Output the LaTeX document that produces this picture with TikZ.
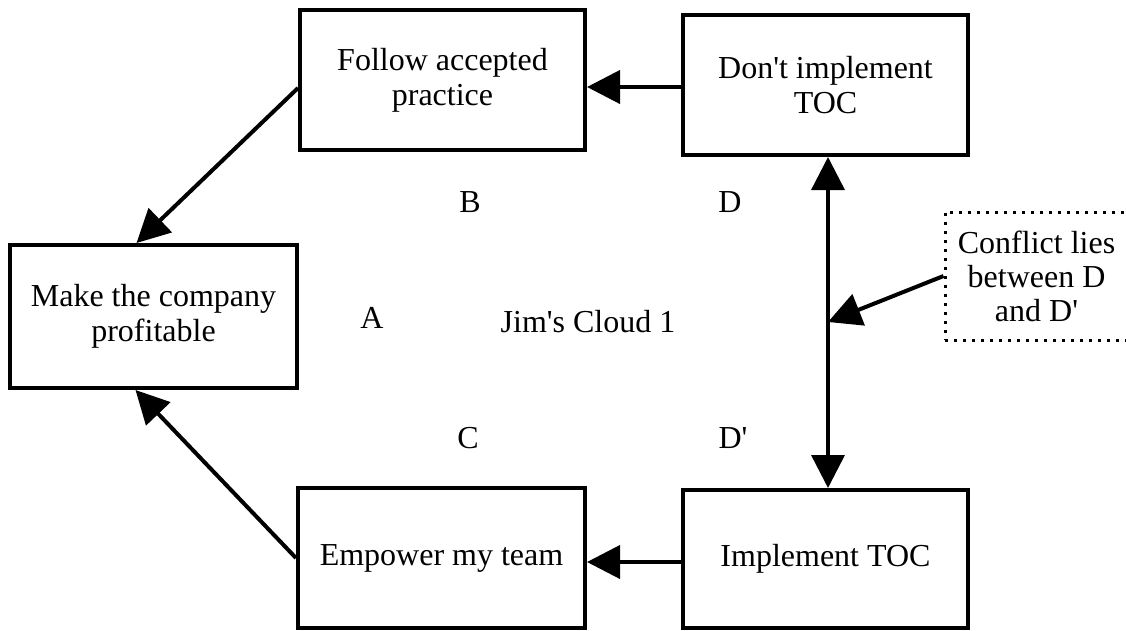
\documentclass[tikz,border=0pt]{standalone}
\usepackage{fontspec}
\setmainfont{Liberation Serif}
\usetikzlibrary{arrows.meta}

\newcommand{\ap}{\textquotesingle}

\tikzset{
  box/.style={draw, line width=4pt, rectangle, align=center, inner sep=0pt,
              font=\fontsize{32}{35}\selectfont},
  lbl/.style={inner sep=0pt, font=\fontsize{32}{35}\selectfont},
  link/.style={line width=4pt, -{Triangle[length=33pt,width=33pt]}},
  both/.style={line width=3.5pt, {Triangle[length=33pt,width=33pt]}-{Triangle[length=33pt,width=33pt]}},
  note/.style={draw, line width=3pt, dash pattern=on 3pt off 6pt, align=center,
               inner sep=0pt, font=\fontsize{32}{34}\selectfont}
}

\begin{document}
\begin{tikzpicture}[x=1pt, y=-1pt]
  \useasboundingbox (0,0) rectangle (1126,630);
  \clip (0,0) rectangle (1126,630);

  % the five entities of the cloud
  \node[box, minimum width=287pt, minimum height=143pt] (A) at (153.5,316.5)
    {Make the company\\profitable};
  \node[box, minimum width=285pt, minimum height=140pt] (B) at (442.5,80)
    {Follow accepted\\practice};
  \node[box, minimum width=285pt, minimum height=140pt] (D) at (825.5,85)
    {Don\ap t implement\\TOC};
  \node[box, minimum width=287pt, minimum height=140pt] (C) at (441.5,558)
    {Empower my team};
  \node[box, minimum width=285pt, minimum height=138pt] (Dp) at (825.5,559)
    {Implement TOC};

  % the note on the conflict, open at the right
  \node[note, minimum width=183pt, minimum height=128pt] (K) at (1036.5,276)
    {Conflict lies\\between D\\and D\ap};

  % letters and title
  \node[lbl] (la) at (372,318) {A};
  \node[lbl] (lb) at (470,202) {B};
  \node[lbl] (lc) at (468,438) {C};
  \node[lbl] (ld) at (730,202) {D};
  \node[lbl] (ldp) at (733,438) {D\ap};
  \node[lbl] (title) at (588,322) {Jim\ap s Cloud 1};

  % necessity arrows
  \draw[link] ([yshift=-8pt]B.west) -- ([xshift=-17pt]A.north);
  \draw[link] (C.west) -- ([xshift=-18pt]A.south);
  \draw[link] ([yshift=-2pt]D.west) -- ([yshift=-2pt]D.west -| B.east);
  \draw[link] ([yshift=-3pt]Dp.west) -- ([yshift=-3pt]Dp.west -| C.east);

  % the conflict between D and D'
  \draw[both] ([xshift=2.5pt]D.south) -- ([xshift=2.5pt]Dp.north);
  \coordinate (m) at (828,322);
  \draw[link] (K.west) -- (m);
\end{tikzpicture}
\end{document}
